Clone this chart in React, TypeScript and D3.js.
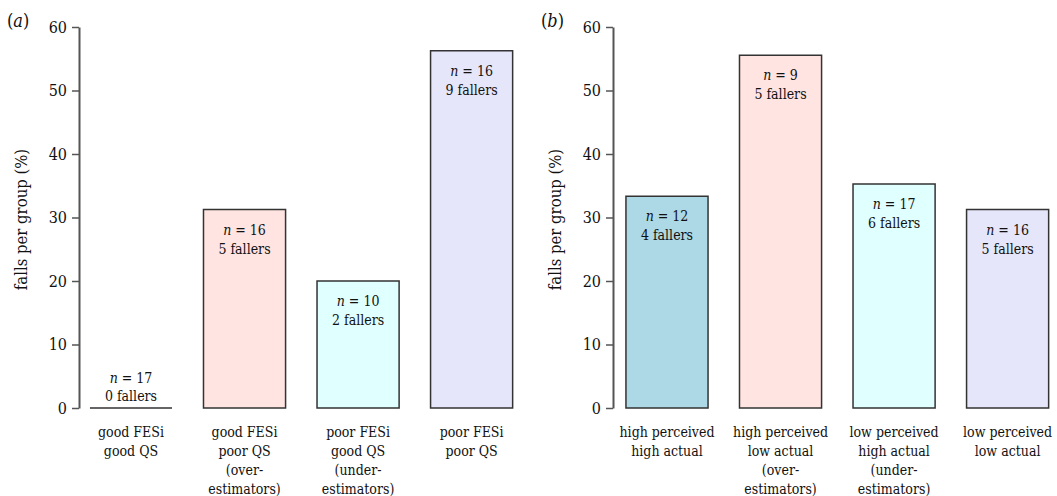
import React, { useEffect, useRef } from 'react';
import * as d3 from 'd3';

const groupsA = ['good FESi|good QS', 'good FESi|poor QS|(over-|estimators)', 'poor FESi|good QS|(under-|estimators)', 'poor FESi|poor QS'];
const nA = [17, 16, 10, 16];
const fallersA = [0, 5, 2, 9];
const pctA = [0, 31.25, 20, 56.25];

const groupsB = ['high perceived|high actual', 'high perceived|low actual|(over-|estimators)', 'low perceived|high actual|(under-|estimators)', 'low perceived|low actual'];
const nB = [12, 9, 17, 16];
const fallersB = [4, 5, 6, 5];
const pctB = [33.33, 55.56, 35.29, 31.25];

const colorsA = ['#ffffff', '#ffe4e1', '#e0ffff', '#e6e6fa'];
const colorsB = ['#add8e6', '#ffe4e1', '#e0ffff', '#e6e6fa'];
const yTicks = [0, 10, 20, 30, 40, 50, 60];

const FONT = '"DejaVu Serif Condensed", "DejaVu Serif", serif';

const App = () => {
    const ref = useRef(null);

    useEffect(() => {
        const svg = d3.select(ref.current);
        svg.selectAll('*').remove();

        const y = d3.scaleLinear().domain([0, 60]).range([408, 27]);

        const drawPanel = (tag, axisX, xStart, xEnd, groups, ns, fallers, pcts, colors) => {
            const g = svg.append('g').attr('font-family', FONT);
            const x = d3.scaleBand().domain(groups).range([xStart, xEnd])
                .paddingInner(0.277).paddingOuter(0.1);

            // panel tag
            const t = g.append('text')
                .attr('x', axisX - 72).attr('y', 27)
                .attr('font-size', 18).attr('fill', '#111');
            t.append('tspan').text('(');
            t.append('tspan').attr('font-style', 'italic').text(tag);
            t.append('tspan').text(')');

            // y axis
            const axis = g.append('g')
                .attr('transform', `translate(${axisX},0)`)
                .call(d3.axisLeft(y).tickValues(yTicks).tickSize(7).tickSizeOuter(0).tickPadding(5))
                .attr('font-family', FONT)
                .attr('font-size', 16);
            axis.selectAll('.domain').attr('stroke', '#555').attr('stroke-width', 2);
            axis.selectAll('.tick line').attr('stroke', '#555').attr('stroke-width', 1.5);
            axis.selectAll('text').attr('fill', '#111');

            g.append('text')
                .attr('transform', `translate(${axisX - 52},${y(30) + 2}) rotate(-90)`)
                .attr('text-anchor', 'middle')
                .attr('font-size', 16.5).attr('fill', '#111')
                .text('falls per group (%)');

            // bars
            groups.forEach((cat, i) => {
                const x0 = x(cat);
                const w = x.bandwidth();
                const top = y(pcts[i]);
                const h = y(0) - top;
                g.append('path')
                    .attr('d', `M${x0},${top}h${w}v${h}h${-w}Z`)
                    .attr('fill', colors[i])
                    .attr('stroke', '#333')
                    .attr('stroke-width', 1.5);

                const cx = x0 + w / 2;
                const l1 = pcts[i] === 0 ? y(0) - 25 : top + 25;
                const l2 = pcts[i] === 0 ? y(0) - 7 : top + 44;
                const t1 = g.append('text')
                    .attr('x', cx).attr('y', l1).attr('text-anchor', 'middle')
                    .attr('font-size', 14).attr('fill', '#111');
                t1.append('tspan').attr('font-style', 'italic').text('n');
                t1.append('tspan').text(` = ${ns[i]}`);
                g.append('text')
                    .attr('x', cx).attr('y', l2).attr('text-anchor', 'middle')
                    .attr('font-size', 14).attr('fill', '#111')
                    .text(`${fallers[i]} fallers`);

                cat.split('|').forEach((line, j) => {
                    g.append('text')
                        .attr('x', cx).attr('y', 437 + j * 19).attr('text-anchor', 'middle')
                        .attr('font-size', 14).attr('fill', '#111')
                        .text(line);
                });
            });
        };

        drawPanel('a', 79, 78.6, 524, groupsA, nA, fallersA, pctA, colorsA);
        drawPanel('b', 613, 614.6, 1060, groupsB, nB, fallersB, pctB, colorsB);
    }, []);

    return (
        <svg ref={ref} width={1057} height={496}
            style={{ position: 'absolute', left: 0, top: 0, background: '#fff' }} />
    );
};

export default App;
